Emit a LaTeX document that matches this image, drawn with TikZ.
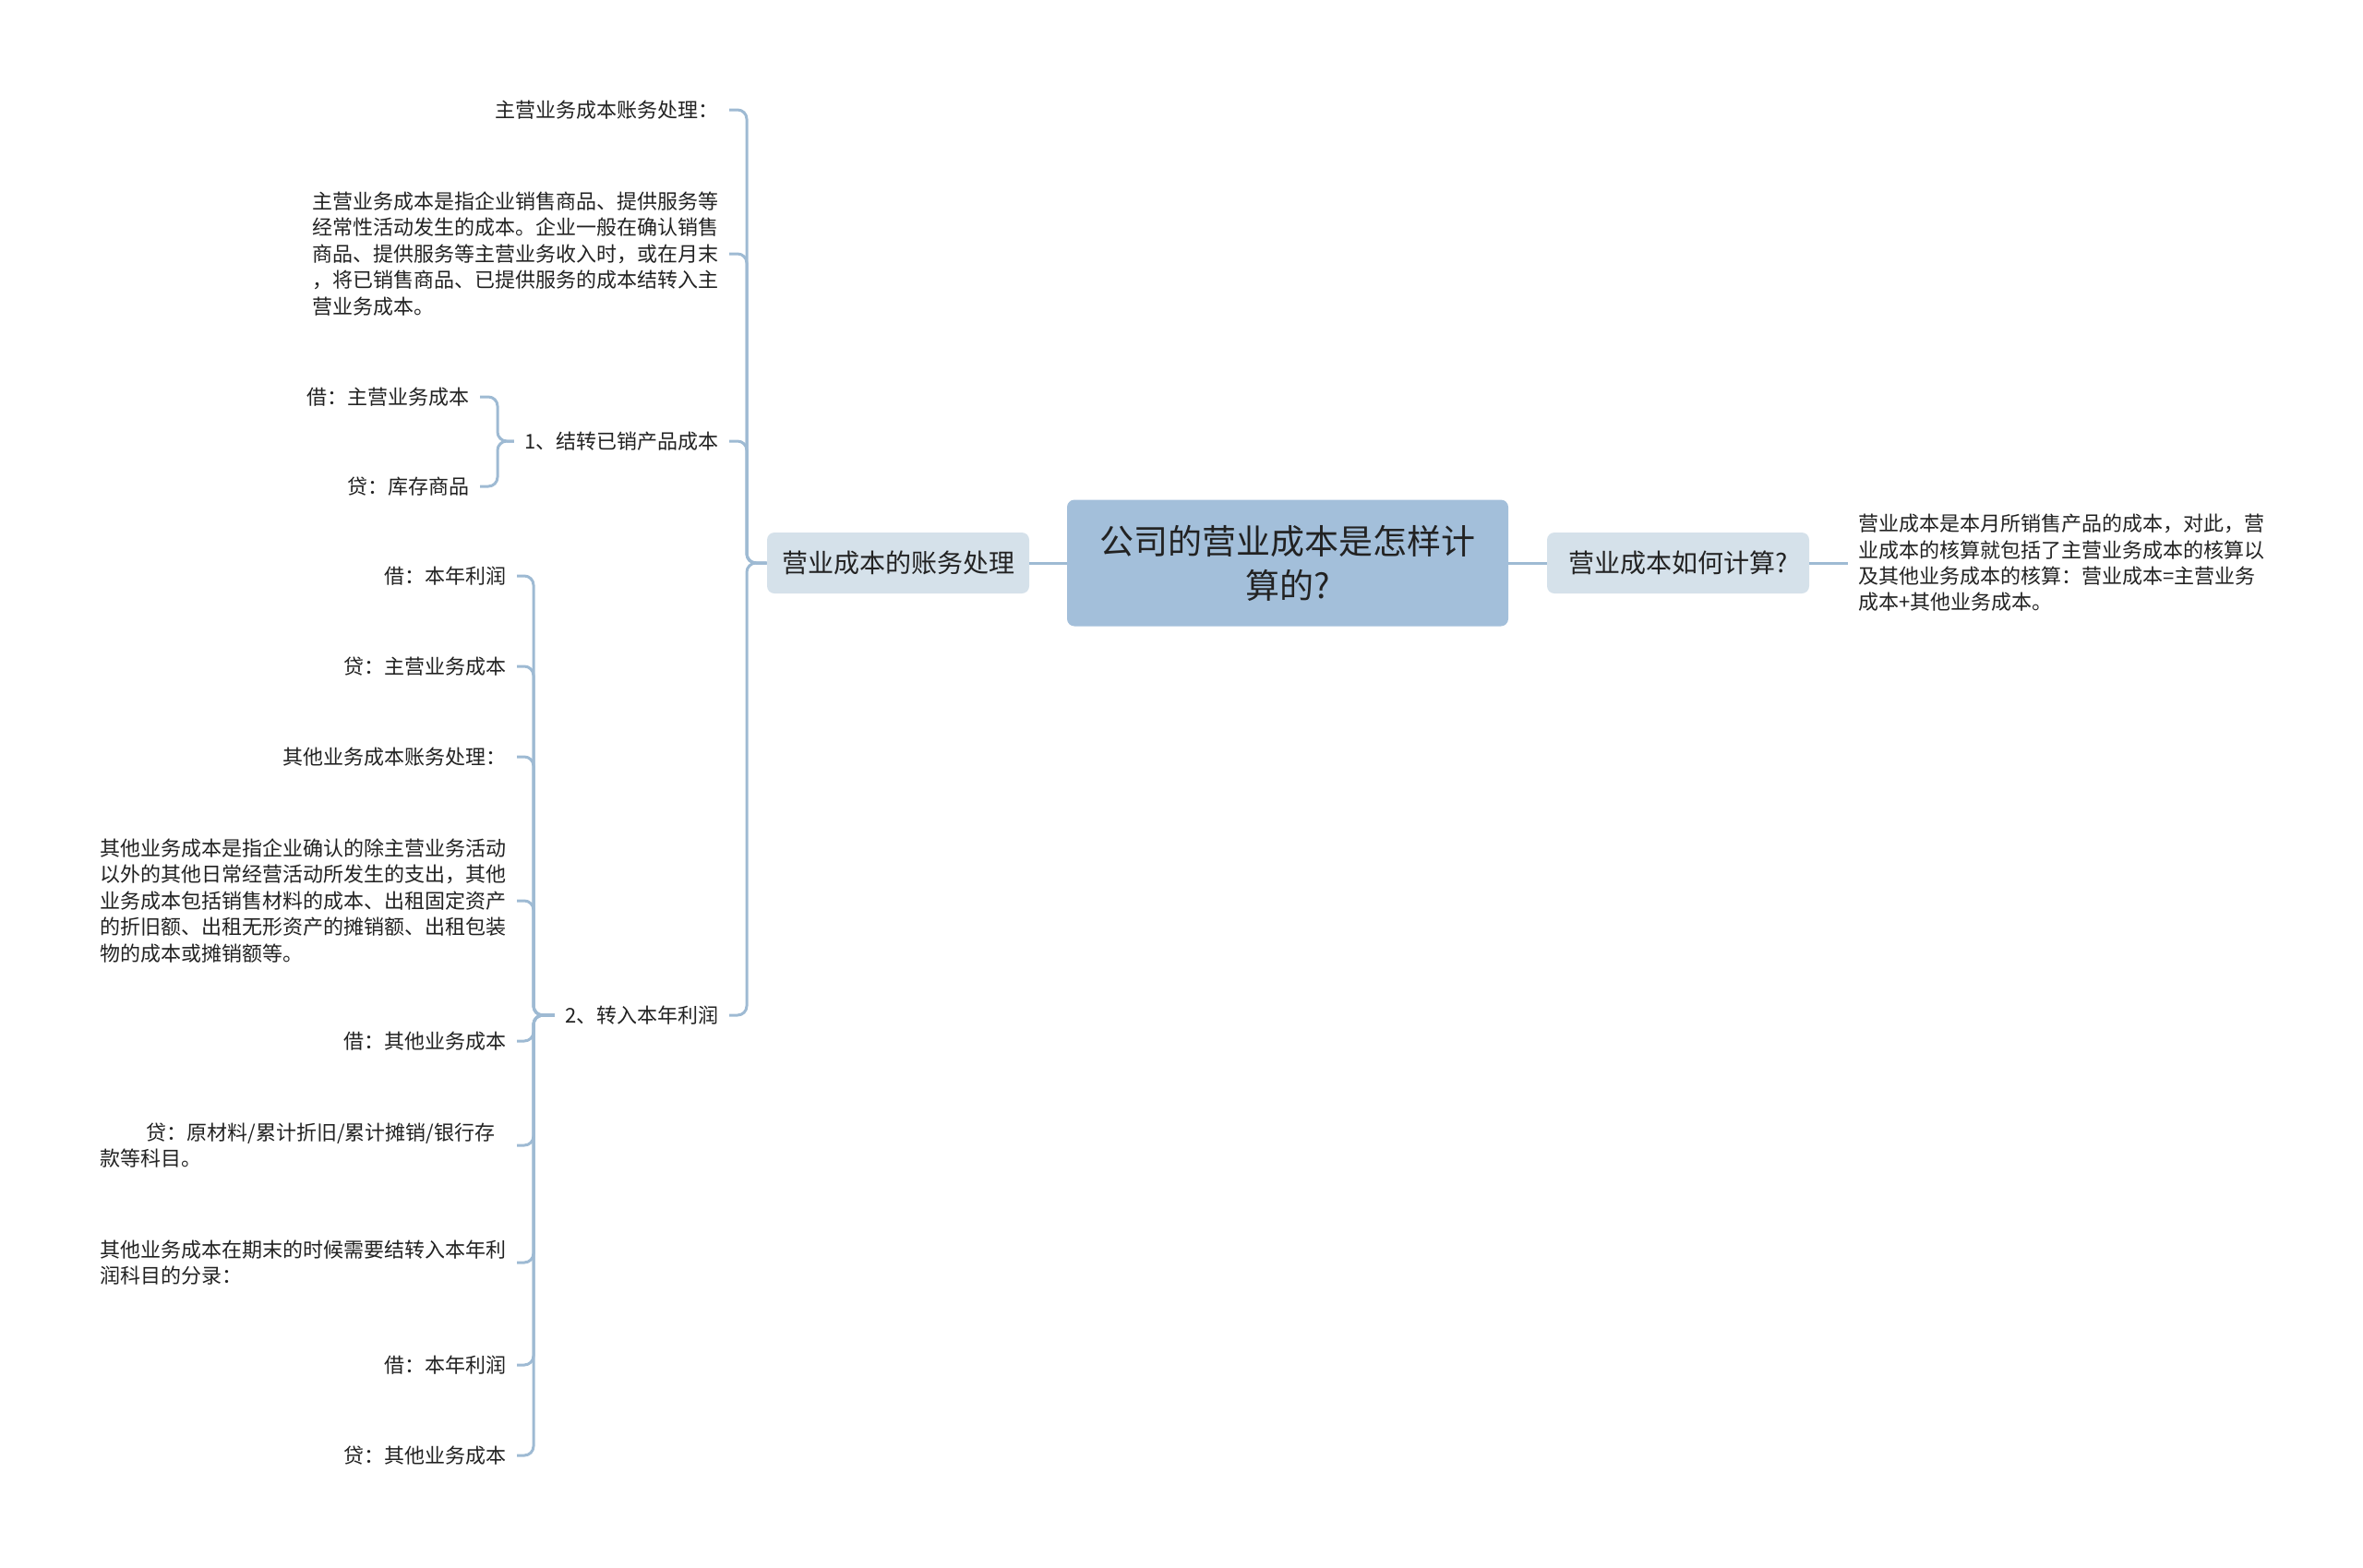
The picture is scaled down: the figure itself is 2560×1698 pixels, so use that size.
\documentclass[tikz,border=0pt]{standalone}
\usepackage{fontspec}
\usepackage{tikz}
\newfontfamily\cjk{Noto Sans CJK SC}
\definecolor{rootblue}  {RGB}{163, 191, 218}
\definecolor{topicblue} {RGB}{213, 225, 234}
\definecolor{linkblue}  {RGB}{158, 186, 211}
\definecolor{inkgray}   {RGB}{ 34,  34,  34}
\tikzset{
	rootbox/.style={fill=rootblue, rounded corners=4pt, minimum width=239pt, minimum height=68.5pt,
		align=center, text=inkgray, font=\cjk\fontsize{18.5}{24}\selectfont},
	topicbox/.style={fill=topicblue, rounded corners=4pt, minimum width=142pt, minimum height=33pt,
		text=inkgray, font=\cjk\fontsize{14}{17}\selectfont},
	leaf/.style={anchor=east, inner xsep=5.5pt, inner ysep=0pt, align=left,
		text=inkgray, font=\cjk\fontsize{11}{14.2}\selectfont},
	conn/.style={draw=linkblue, line width=1.5pt, rounded corners=5pt}
}

\begin{document}
\begin{tikzpicture}[x=0.5pt,y=-0.5pt]
	\useasboundingbox (0,0) rectangle (2560,1698);
	% centre and main topics
	\node[rootbox] (root) at (1395,610) {公司的营业成本是怎样计\\算的?};
	\node[topicbox] (ltopic) at (973,610) {营业成本的账务处理};
	\node[topicbox] (rtopic) at (1818,610) {营业成本如何计算?};
	\node[leaf, anchor=west] (rleaf) at (2002,610) {营业成本是本月所销售产品的成本，对此，营\\业成本的核算就包括了主营业务成本的核算以\\及其他业务成本的核算：营业成本=主营业务\\成本+其他业务成本。};
	\draw[conn] (root.west) -- (ltopic.east);
	\draw[conn] (root.east) -- (rtopic.west);
	\draw[conn] (rtopic.east) -- (rleaf.west);

	% left branch
	\node[leaf] (a1) at (790,119) {主营业务成本账务处理：};
	\node[leaf] (a2) at (790,275) {主营业务成本是指企业销售商品、提供服务等\\经常性活动发生的成本。企业一般在确认销售\\商品、提供服务等主营业务收入时，或在月末\\，将已销售商品、已提供服务的成本结转入主\\营业务成本。};
	\node[leaf] (a3) at (790,478) {1、结转已销产品成本};
	\node[leaf] (a4) at (790,1100) {2、转入本年利润};
	\foreach \c in {a1,a2,a3,a4}
		\draw[conn] (ltopic.west) -- (809,610) |- (\c.east);

	% 1
	\node[leaf] (c1) at (520,430) {借：主营业务成本};
	\node[leaf] (c2) at (520,527) {贷：库存商品};
	\foreach \c in {c1,c2}
		\draw[conn] (a3.west) -- (539,478) |- (\c.east);

	% 2
	\node[leaf] (b1) at (560,624) {借：本年利润};
	\node[leaf] (b2) at (560,722) {贷：主营业务成本};
	\node[leaf] (b3) at (560,820) {其他业务成本账务处理：};
	\node[leaf] (b4) at (560,976) {其他业务成本是指企业确认的除主营业务活动\\以外的其他日常经营活动所发生的支出，其他\\业务成本包括销售材料的成本、出租固定资产\\的折旧额、出租无形资产的摊销额、出租包装\\物的成本或摊销额等。};
	\node[leaf] (b5) at (560,1128) {借：其他业务成本};
	\node[leaf, text width=220pt] (b6) at (560,1241) {\hspace*{25pt}贷：原材料/累计折旧/累计摊销/银行存\\款等科目。};
	\node[leaf] (b7) at (560,1368) {其他业务成本在期末的时候需要结转入本年利\\润科目的分录：};
	\node[leaf] (b8) at (560,1479) {借：本年利润};
	\node[leaf] (b9) at (560,1577) {贷：其他业务成本};
	\foreach \c in {b1,b2,b3,b4,b5,b6,b7,b8,b9}
		\draw[conn] (a4.west) -- (578,1100) |- (\c.east);
\end{tikzpicture}
\end{document}
